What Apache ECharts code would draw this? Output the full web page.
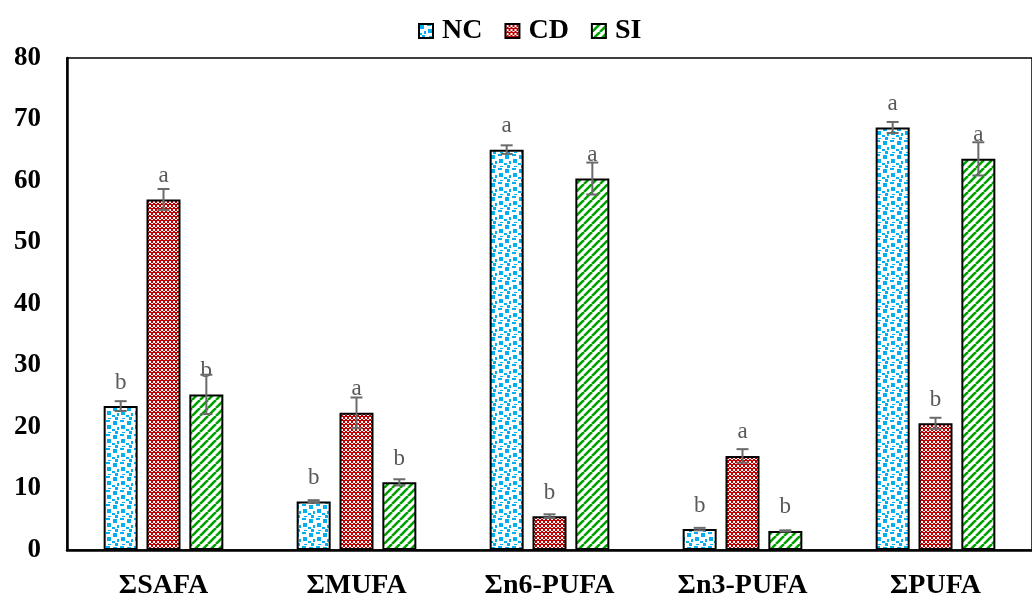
<!DOCTYPE html>
<html>
<head>
<meta charset="utf-8">
<script src="https://cdn.jsdelivr.net/npm/echarts@6/dist/echarts.min.js"></script>
<style>
  html, body { margin: 0; padding: 0; background: #fff; }
  #chart { width: 1032px; height: 600px; }
</style>
</head>
<body>
<div id="chart"></div>
<script>
// Fatty acid groups (% of total fatty acids)
const categories = ['ΣSAFA', 'ΣMUFA', 'Σn6-PUFA', 'Σn3-PUFA', 'ΣPUFA'];
const seriesNames = ['NC', 'CD', 'SI'];

const ncValues = [23.4, 7.9, 65.1, 3.4, 68.7];
const cdValues = [57.0, 22.3, 5.5, 15.3, 20.6];
const siValues = [25.3, 11.0, 60.4, 3.1, 63.6];

const ncErrors = [0.8, 0.2, 0.7, 0.2, 0.9];
const cdErrors = [1.7, 2.5, 0.3, 1.1, 0.9];
const siErrors = [3.2, 0.5, 2.6, 0.1, 2.7];

// significance letters
const ncLetters = ['b', 'b', 'a', 'b', 'a'];
const cdLetters = ['a', 'a', 'b', 'a', 'b'];
const siLetters = ['b', 'b', 'a', 'b', 'a'];

const yTicks = { min: 0, max: 80, interval: 10 };

// --- fill patterns ---
function tile(size, draw) {
  const c = document.createElement('canvas');
  c.width = size; c.height = size;
  const ctx = c.getContext('2d');
  ctx.fillStyle = '#fff';
  ctx.fillRect(0, 0, size, size);
  draw(ctx);
  return { image: c, repeat: 'repeat' };
}

// blue confetti
const ncFill = tile(14, ctx => {
  ctx.fillStyle = '#00b0f0';
  ctx.fillRect(1, 1, 4, 4);
  ctx.fillRect(8, 0, 4, 2);
  ctx.fillRect(9, 5, 4, 4);
  ctx.fillRect(5, 7, 2, 3);
  ctx.fillRect(0, 9, 3, 2);
  ctx.fillRect(3, 11, 3, 3);
  ctx.fillRect(10, 12, 3, 1);
});

// red checker
const cdFill = tile(8, ctx => {
  ctx.fillStyle = '#c00000';
  ctx.fillRect(0, 0, 8, 8);
  ctx.fillStyle = '#fff';
  [[1, 1], [5, 1], [3, 3], [7, 3], [1, 5], [5, 5], [3, 7], [7, 7], [-1, 3], [-1, 7], [3, -1], [7, -1], [-1, -1]]
    .forEach(([x, y]) => ctx.fillRect(x, y, 2, 2));
  ctx.fillStyle = '#c00000';
  ctx.fillRect(0, 0, 8, 1);
  ctx.fillRect(0, 4, 8, 1);
});

// green wide upward diagonal
const siFill = tile(8, ctx => {
  ctx.strokeStyle = '#00a000';
  ctx.lineWidth = 2.6;
  [-8, 0, 8].forEach(k => {
    ctx.beginPath();
    ctx.moveTo(k, 8);
    ctx.lineTo(k + 8, 0);
    ctx.stroke();
  });
});

const fills = [ncFill, cdFill, siFill];
const values = [ncValues, cdValues, siValues];
const errors = [ncErrors, cdErrors, siErrors];
const letters = [ncLetters, cdLetters, siLetters];

const BAR_W = 34;
const BAR_GAP = 0.26;
const step = BAR_W * (1 + BAR_GAP);

const barSeries = seriesNames.map((name, s) => ({
  name,
  type: 'bar',
  barWidth: BAR_W,
  barGap: (BAR_GAP * 100) + '%',
  data: values[s],
  itemStyle: { color: fills[s], borderColor: '#000', borderWidth: 2 },
  label: {
    show: true,
    position: 'top',
    distance: 12,
    formatter: p => letters[s][p.dataIndex],
    color: '#595959',
    fontFamily: 'Liberation Serif',
    fontSize: 23
  },
  z: 2
}));

const errorSeries = seriesNames.map((name, s) => ({
  name: name + ' SD',
  type: 'custom',
  z: 10,
  silent: true,
  data: values[s].map((v, i) => [i, v, errors[s][i]]),
  renderItem: (params, api) => {
    const i = api.value(0), v = api.value(1), e = api.value(2);
    const off = (s - 1) * step;
    const hi = api.coord([i, v + e]);
    const lo = api.coord([i, v - e]);
    const x = hi[0] + off;
    const cap = 6;
    const style = { stroke: '#6a6a6a', lineWidth: 2 };
    return {
      type: 'group',
      children: [
        { type: 'line', shape: { x1: x, y1: hi[1], x2: x, y2: lo[1] }, style },
        { type: 'line', shape: { x1: x - cap, y1: hi[1], x2: x + cap, y2: hi[1] }, style },
        { type: 'line', shape: { x1: x - cap, y1: lo[1], x2: x + cap, y2: lo[1] }, style }
      ]
    };
  }
}));

const chart = echarts.init(document.getElementById('chart'), null, { renderer: 'canvas' });
chart.setOption({
  animation: false,
  backgroundColor: '#fff',
  legend: {
    data: seriesNames.map(n => ({ name: n, icon: 'rect' })),
    top: 12,
    left: 413,
    itemWidth: 14,
    itemHeight: 14,
    itemGap: 22,
    textStyle: { fontFamily: 'Liberation Serif', fontWeight: 'bold', fontSize: 28, color: '#000', padding: [0, 0, 0, 4] }
  },
  grid: {
    left: 67, right: -14, top: 58, bottom: 48,
    show: true, borderColor: '#000', borderWidth: 1.5
  },
  xAxis: {
    type: 'category',
    data: categories,
    axisLine: { lineStyle: { color: '#000', width: 2.5 } },
    axisTick: { show: false },
    axisLabel: {
      margin: 22,
      color: '#000',
      fontFamily: 'Liberation Serif',
      fontWeight: 'bold',
      fontSize: 28
    }
  },
  yAxis: {
    type: 'value',
    min: yTicks.min,
    max: yTicks.max,
    interval: yTicks.interval,
    axisLine: { show: true, lineStyle: { color: '#000', width: 2.5 } },
    axisTick: { show: false },
    splitLine: { show: false },
    axisLabel: {
      margin: 26,
      color: '#000',
      fontFamily: 'Liberation Serif',
      fontWeight: 'bold',
      fontSize: 27
    }
  },
  series: barSeries.concat(errorSeries)
});
</script>
</body>
</html>
